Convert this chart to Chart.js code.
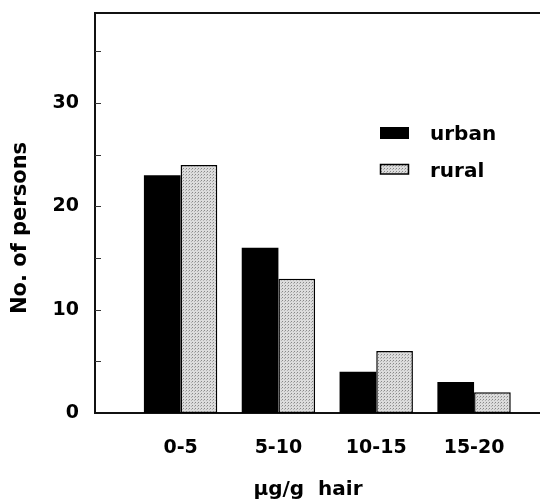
<!DOCTYPE html>
<html>
<head>
<meta charset="utf-8">
<script src="https://cdn.jsdelivr.net/npm/chart.js@4.4.1/dist/chart.umd.min.js"></script>
<style>
html,body{margin:0;padding:0;background:#fff;}
#wrap{width:540px;height:502px;position:relative;}
</style>
</head>
<body>
<div id="wrap"><canvas id="c" width="540" height="502"></canvas></div>
<script>
// ---- data ----
const categories = ['0-5', '5-10', '10-15', '15-20'];
const categoryPositions = [1, 2, 3, 4];
const urban = [23, 16, 4, 3];
const rural = [24, 13, 6, 2];
const seriesNames = ['urban', 'rural'];
const yTickValues = [0, 5, 10, 15, 20, 25, 30, 35];
const yAxisTitle = 'No. of persons';
const xAxisTitle = 'μg/g  hair';

const FONT = '"DejaVu Sans", sans-serif';

// stipple pattern for rural
function makePattern() {
  const p = document.createElement('canvas');
  p.width = 3; p.height = 3;
  const g = p.getContext('2d');
  g.fillStyle = '#dcdcdc';
  g.fillRect(0, 0, 3, 3);
  g.fillStyle = '#888';
  g.fillRect(0, 0, 1, 1);
  g.fillStyle = '#b0b0b0';
  g.fillRect(2, 1, 1, 1);
  return document.getElementById('c').getContext('2d').createPattern(p, 'repeat');
}
const ruralFill = makePattern();

const decor = {
  id: 'decor',
  afterDraw(chart) {
    const ctx = chart.ctx;
    const a = chart.chartArea;
    const ys = chart.scales.y;
    ctx.save();
    // top frame line
    ctx.strokeStyle = '#111';
    ctx.lineWidth = 2;
    ctx.beginPath();
    ctx.moveTo(a.left - 1, a.top);
    ctx.lineTo(a.right, a.top);
    ctx.stroke();
    // inner tick marks
    ctx.lineWidth = 1;
    ctx.strokeStyle = '#333';
    ys.ticks.forEach(t => {
      if (t.value === 0) return;
      const y = Math.round(ys.getPixelForValue(t.value)) + 0.5;
      ctx.beginPath();
      ctx.moveTo(a.left, y);
      ctx.lineTo(a.left + 6, y);
      ctx.stroke();
    });
    // legend
    ctx.fillStyle = '#000';
    ctx.fillRect(380, 127, 29, 12);
    ctx.fillStyle = ruralFill;
    ctx.fillRect(380, 164, 29, 10);
    ctx.strokeStyle = '#000';
    ctx.lineWidth = 1.5;
    ctx.strokeRect(380.5, 164.5, 28, 9.5);
    ctx.fillStyle = '#000';
    ctx.font = 'bold 20px ' + FONT;
    ctx.textAlign = 'left';
    ctx.textBaseline = 'alphabetic';
    ctx.fillText(seriesNames[0], 430, 140);
    ctx.fillText(seriesNames[1], 430, 177);
    // axis titles
    ctx.font = 'bold 20px ' + FONT;
    ctx.textAlign = 'center';
    ctx.fillText(xAxisTitle, 308, 495);
    ctx.translate(21, 228);
    ctx.rotate(-Math.PI / 2);
    ctx.font = 'bold 21px ' + FONT;
    ctx.textBaseline = 'middle';
    ctx.fillText(yAxisTitle, 0, 0);
    ctx.restore();
  }
};

new Chart(document.getElementById('c'), {
  type: 'bar',
  data: {
    datasets: [
      {
        label: seriesNames[0],
        data: categoryPositions.map((x, i) => ({x: x, y: urban[i]})),
        backgroundColor: '#000',
        borderColor: '#000',
        borderWidth: 0
      },
      {
        label: seriesNames[1],
        data: categoryPositions.map((x, i) => ({x: x, y: rural[i]})),
        backgroundColor: ruralFill,
        borderColor: '#000',
        borderWidth: 1.5,
        borderSkipped: false
      }
    ]
  },
  options: {
    responsive: false,
    animation: false,
    devicePixelRatio: 1,
    layout: {padding: {top: 13, right: 0, bottom: 0, left: 0}},
    datasets: {bar: {categoryPercentage: 0.75, barPercentage: 1.0}},
    plugins: {legend: {display: false}, tooltip: {enabled: false}, title: {display: false}},
    scales: {
      x: {
        type: 'linear',
        min: 0.125,
        max: 4.674,
        offset: false,
        grid: {display: false, drawTicks: false},
        border: {display: true, color: '#111', width: 2},
        afterBuildTicks(scale) {
          scale.ticks = categoryPositions.map(v => ({value: v}));
        },
        afterFit(scale) {
          scale.height = 89;
          scale.paddingLeft = 0; scale.paddingRight = 0;
        },
        ticks: {
          padding: 24,
          color: '#000',
          font: {family: FONT, size: 19, weight: 'bold'},
          callback: (v) => categories[categoryPositions.indexOf(v)] || ''
        }
      },
      y: {
        min: 0,
        max: 38.7,
        grid: {display: false, drawTicks: false},
        border: {display: true, color: '#111', width: 2},
        afterBuildTicks(scale) {
          scale.ticks = yTickValues.map(v => ({value: v}));
        },
        afterFit(scale) {
          scale.width = 95;
          scale.paddingTop = 0; scale.paddingBottom = 0;
        },
        ticks: {
          padding: 16,
          color: '#000',
          font: {family: FONT, size: 19, weight: 'bold'},
          callback: (v) => (v % 10 === 0 ? String(v) : '')
        }
      }
    }
  },
  plugins: [decor]
});
</script>
</body>
</html>
